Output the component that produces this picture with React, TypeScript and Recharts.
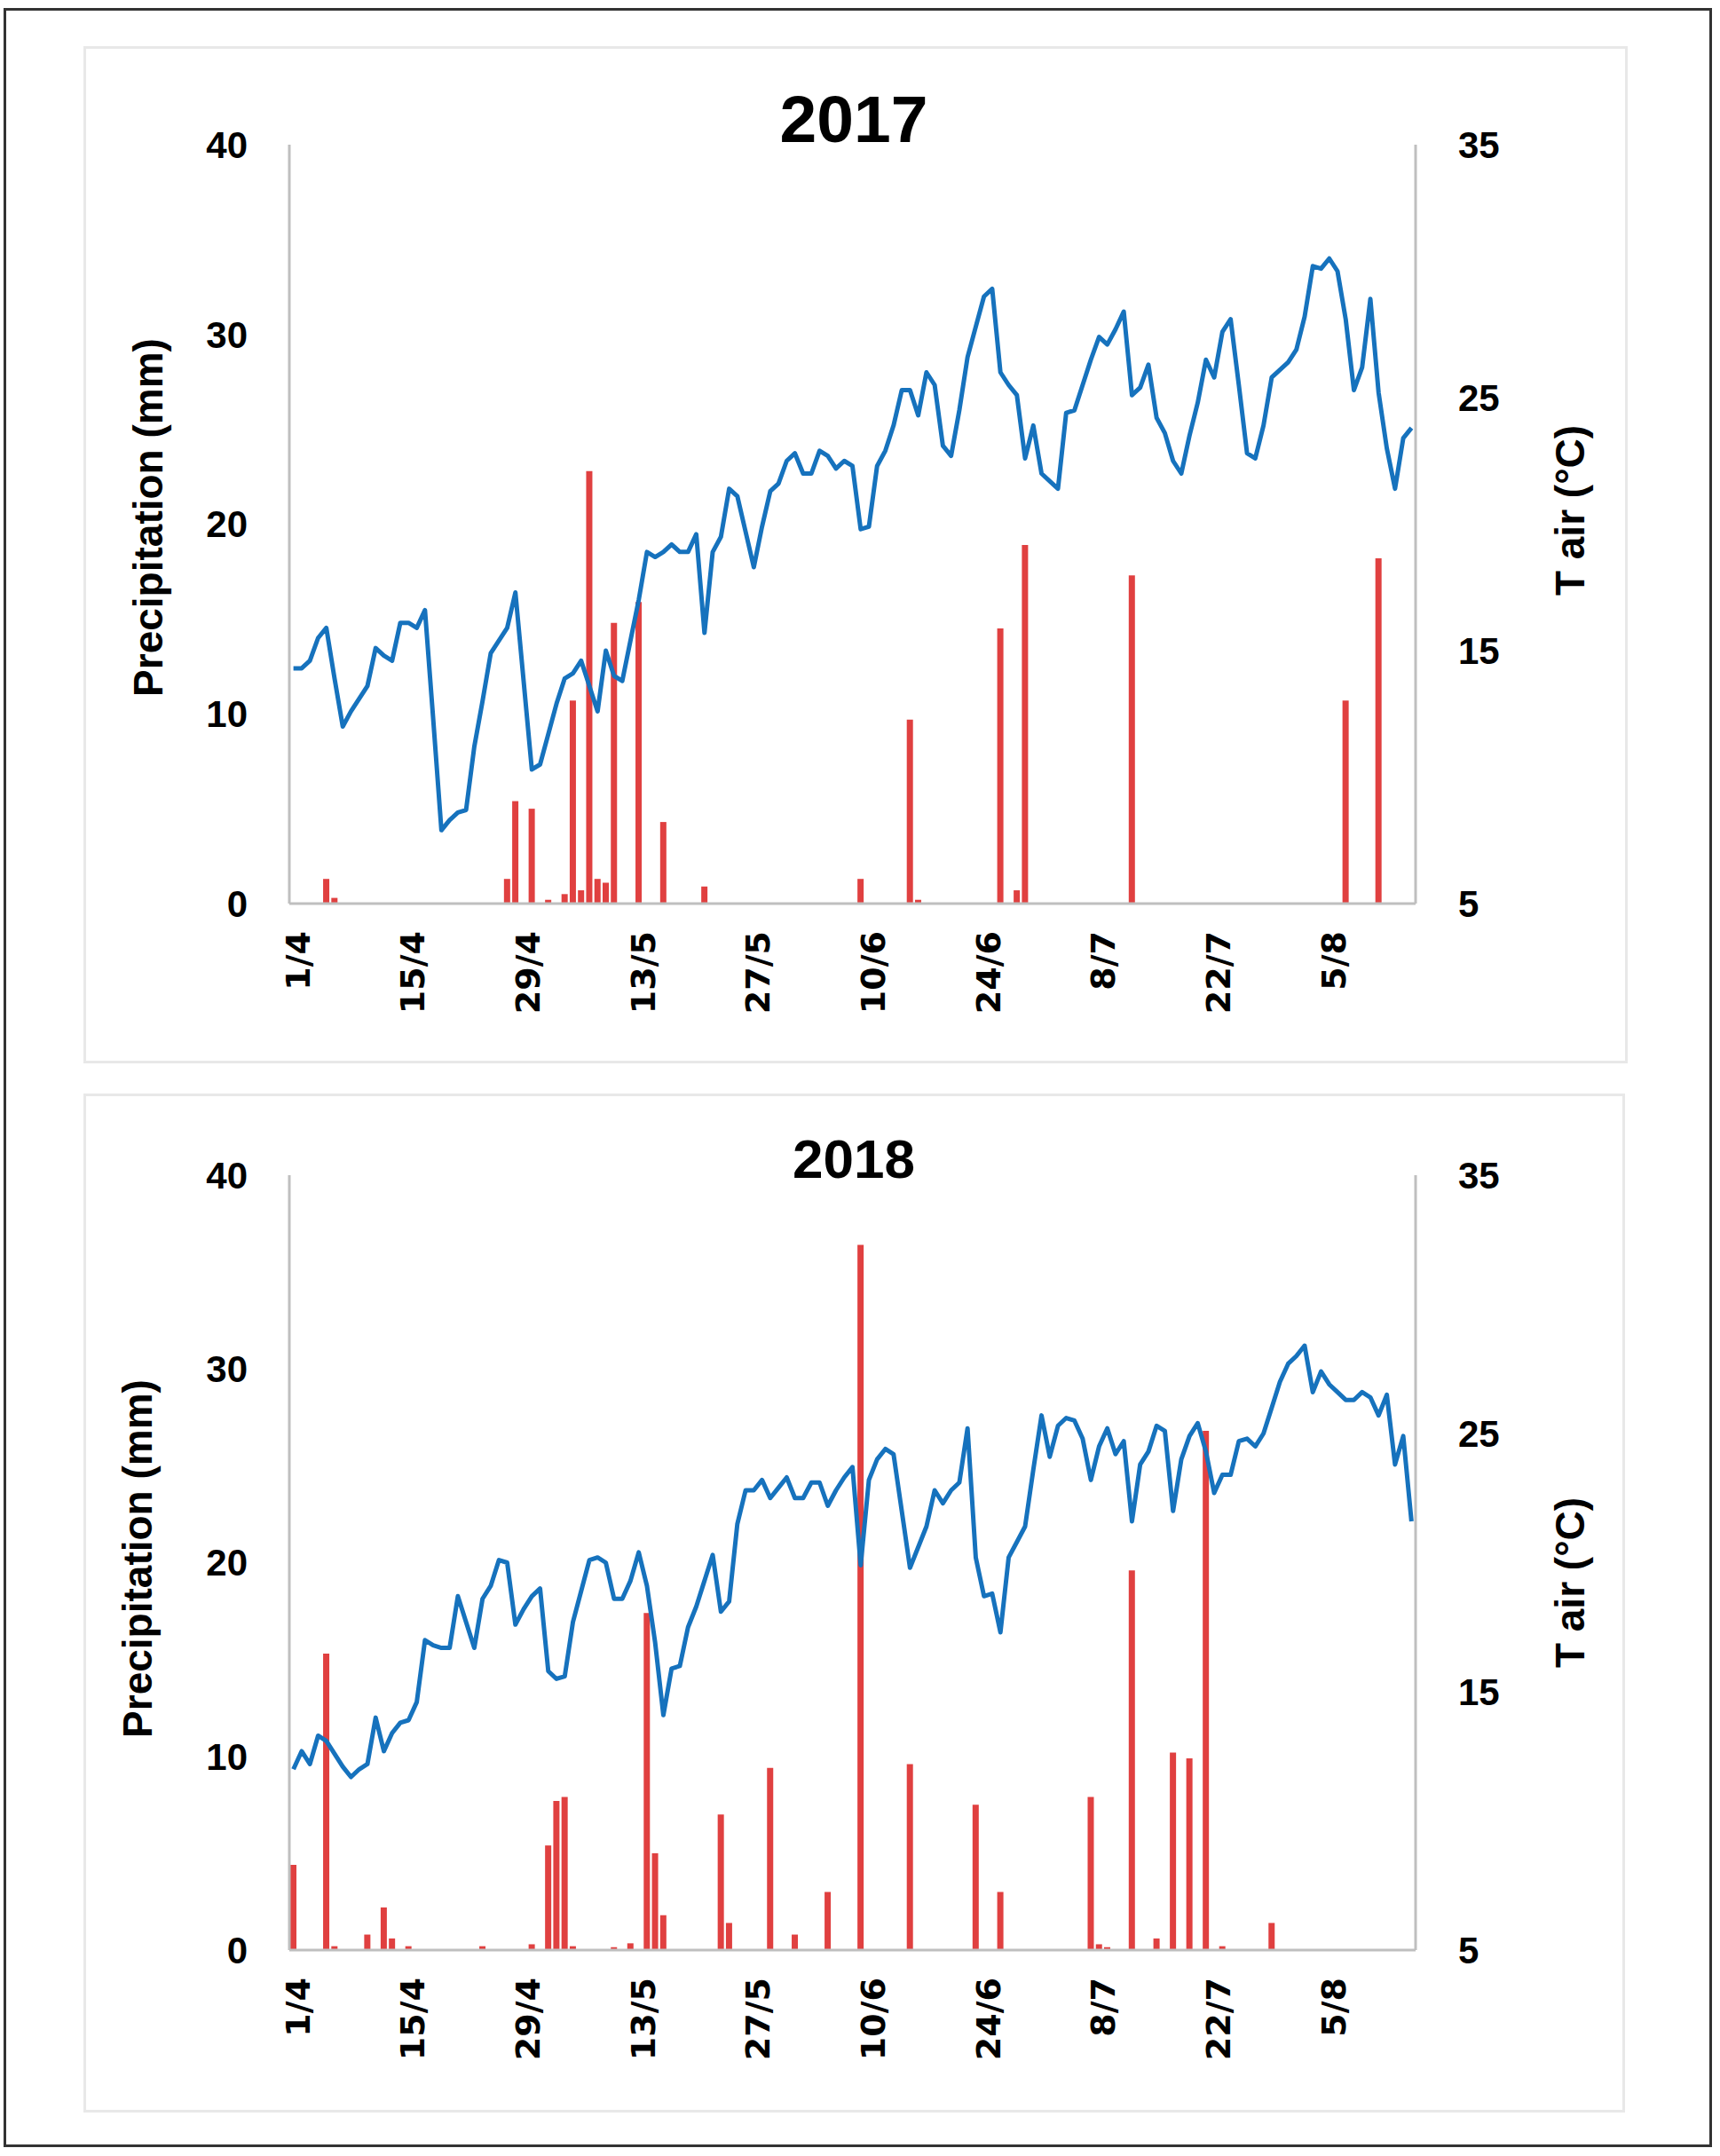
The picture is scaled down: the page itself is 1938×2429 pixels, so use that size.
import React from "react";
import { ComposedChart, Bar, Line, XAxis, YAxis } from "recharts";

// Categories: daily dates from 1 April to 15 August (day/month)
const MONTHS = [4, 5, 6, 7, 8];
const MONTH_DAYS = [30, 31, 30, 31, 15];
const DATES: string[] = [];
MONTHS.forEach((m, i) => {
  for (let d = 1; d <= MONTH_DAYS[i]; d++) DATES.push(`${d}/${m}`);
});

const LEFT_TICKS = [0, 10, 20, 30, 40];
const RIGHT_TICKS = [5, 15, 25, 35];

// Daily mean air temperature (°C), 2017
const TAIR_2017 = [
  14.3, 14.3, 14.6, 15.5, 15.9, 13.9, 12.0, 12.6, 13.1, 13.6,
  15.1, 14.8, 14.6, 16.1, 16.1, 15.9, 16.6, 12.3, 7.9, 8.3,
  8.6, 8.7, 11.2, 13.0, 14.9, 15.4, 15.9, 17.3, 13.8, 10.3,
  10.5, 11.7, 12.9, 13.9, 14.1, 14.6, 13.6, 12.6, 15.0, 14.0,
  13.8, 15.4, 17.0, 18.9, 18.7, 18.9, 19.2, 18.9, 18.9, 19.6,
  15.7, 18.9, 19.5, 21.4, 21.1, 19.7, 18.3, 19.9, 21.3, 21.6,
  22.5, 22.8, 22.0, 22.0, 22.9, 22.7, 22.2, 22.5, 22.3, 19.8,
  19.9, 22.3, 22.9, 23.9, 25.3, 25.3, 24.3, 26.0, 25.5, 23.1,
  22.7, 24.5, 26.6, 27.8, 29.0, 29.3, 26.0, 25.5, 25.1, 22.6,
  23.9, 22.0, 21.7, 21.4, 24.4, 24.5, 25.5, 26.5, 27.4, 27.1,
  27.7, 28.4, 25.1, 25.4, 26.3, 24.2, 23.6, 22.5, 22.0, 23.5,
  24.8, 26.5, 25.8, 27.6, 28.1, 25.5, 22.8, 22.6, 23.9, 25.8,
  26.1, 26.4, 26.9, 28.2, 30.2, 30.1, 30.5, 30.0, 28.1, 25.3,
  26.2, 28.9, 25.2, 23.0, 21.4, 23.4, 23.8,
];

// Daily precipitation (mm), 2017 — days with rain
const PRECIP_2017: [string, number][] = [
  ["5/4", 1.3], ["6/4", 0.3], ["27/4", 1.3], ["28/4", 5.4], ["30/4", 5.0],
  ["2/5", 0.2], ["4/5", 0.5], ["5/5", 10.7], ["6/5", 0.7], ["7/5", 22.8],
  ["8/5", 1.3], ["9/5", 1.1], ["10/5", 14.8], ["13/5", 15.9], ["16/5", 4.3],
  ["21/5", 0.9], ["9/6", 1.3], ["15/6", 9.7], ["16/6", 0.2], ["26/6", 14.5],
  ["28/6", 0.7], ["29/6", 18.9], ["12/7", 17.3], ["7/8", 10.7], ["11/8", 18.2],
];

// Daily mean air temperature (°C), 2018
const TAIR_2018 = [
  12.0, 12.7, 12.2, 13.3, 13.1, 12.6, 12.1, 11.7, 12.0, 12.2,
  14.0, 12.7, 13.4, 13.8, 13.9, 14.6, 17.0, 16.8, 16.7, 16.7,
  18.7, 17.7, 16.7, 18.6, 19.1, 20.1, 20.0, 17.6, 18.2, 18.7,
  19.0, 15.8, 15.5, 15.6, 17.7, 18.9, 20.1, 20.2, 20.0, 18.6,
  18.6, 19.3, 20.4, 19.1, 16.9, 14.1, 15.9, 16.0, 17.5, 18.3,
  19.3, 20.3, 18.1, 18.5, 21.5, 22.8, 22.8, 23.2, 22.5, 22.9,
  23.3, 22.5, 22.5, 23.1, 23.1, 22.2, 22.8, 23.3, 23.7, 19.9,
  23.2, 24.0, 24.4, 24.2, 22.0, 19.8, 20.6, 21.4, 22.8, 22.3,
  22.8, 23.1, 25.2, 20.2, 18.7, 18.8, 17.3, 20.2, 20.8, 21.4,
  23.6, 25.7, 24.1, 25.3, 25.6, 25.5, 24.8, 23.2, 24.5, 25.2,
  24.2, 24.7, 21.6, 23.8, 24.3, 25.3, 25.1, 22.0, 24.0, 24.9,
  25.4, 24.3, 22.7, 23.4, 23.4, 24.7, 24.8, 24.5, 25.0, 26.0,
  27.0, 27.7, 28.0, 28.4, 26.6, 27.4, 26.9, 26.6, 26.3, 26.3,
  26.6, 26.4, 25.7, 26.5, 23.8, 24.9, 21.6,
];

// Daily precipitation (mm), 2018 — days with rain
const PRECIP_2018: [string, number][] = [
  ["1/4", 4.4], ["5/4", 15.3], ["6/4", 0.2], ["10/4", 0.8], ["12/4", 2.2],
  ["13/4", 0.6], ["15/4", 0.2], ["24/4", 0.2], ["30/4", 0.3], ["2/5", 5.4],
  ["3/5", 7.7], ["4/5", 7.9], ["5/5", 0.2], ["10/5", 0.15], ["12/5", 0.35],
  ["14/5", 17.4], ["15/5", 5.0], ["16/5", 1.8], ["23/5", 7.0], ["24/5", 1.4],
  ["29/5", 9.4], ["1/6", 0.8], ["5/6", 3.0], ["9/6", 36.4], ["15/6", 9.6],
  ["23/6", 7.5], ["26/6", 3.0], ["7/7", 7.9], ["8/7", 0.3], ["9/7", 0.15],
  ["12/7", 19.6], ["15/7", 0.6], ["17/7", 10.2], ["19/7", 9.9], ["21/7", 26.8],
  ["23/7", 0.2], ["29/7", 1.4],
];

const BAR_COLOR = "#e04040";
const LINE_COLOR = "#1672bd";
const AXIS_COLOR = "#bfbfbf";
const SANS = "'Liberation Sans', Arial, sans-serif";

const XTick = (props: any) => {
  const { x, y, payload } = props;
  return (
    <text
      transform={`translate(${x + 18}, ${y + 31}) rotate(-90)`}
      textAnchor="end"
      fontFamily="'DejaVu Sans', Verdana, sans-serif"
      fontWeight="bold"
      fontSize={38}
      fill="#000"
    >
      {payload.value}
    </text>
  );
};

function ClimateChart({
  tair,
  precip,
  marginTop,
  height,
}: {
  tair: number[];
  precip: [string, number][];
  marginTop: number;
  height: number;
}) {
  const rain = new Map(precip);
  const data = DATES.map((d, i) => ({ date: d, t: tair[i], p: rain.get(d) ?? 0 }));
  const tickStyle = { fontSize: 42, fontFamily: SANS, fontWeight: 700, fill: "#000" };
  return (
    <ComposedChart
      width={1938}
      height={height}
      data={data}
      margin={{ top: marginTop, right: 0, bottom: 0, left: 0 }}
      barCategoryGap={0}
    >
      <XAxis
        dataKey="date"
        interval={13}
        height={150}
        tickSize={0}
        tickMargin={0}
        tickLine={false}
        axisLine={{ stroke: AXIS_COLOR, strokeWidth: 3 }}
        tick={<XTick />}
      />
      <YAxis
        yAxisId="p"
        orientation="left"
        width={326}
        domain={[0, 40]}
        ticks={LEFT_TICKS}
        tickSize={0}
        tickMargin={47}
        tickLine={false}
        axisLine={{ stroke: AXIS_COLOR, strokeWidth: 3 }}
        tick={tickStyle}
      />
      <YAxis
        yAxisId="t"
        orientation="right"
        width={343}
        domain={[5, 35]}
        ticks={RIGHT_TICKS}
        tickSize={0}
        tickMargin={48}
        tickLine={false}
        axisLine={{ stroke: AXIS_COLOR, strokeWidth: 3 }}
        tick={tickStyle}
      />
      <Bar yAxisId="p" dataKey="p" fill={BAR_COLOR} barSize={7} isAnimationActive={false} />
      <Line
        yAxisId="t"
        type="linear"
        dataKey="t"
        stroke={LINE_COLOR}
        strokeWidth={5}
        dot={false}
        strokeLinejoin="round"
        isAnimationActive={false}
      />
    </ComposedChart>
  );
}

export default function App() {
  return (
    <div
      style={{
        position: "absolute",
        left: 0,
        top: 0,
        width: 1938,
        height: 2429,
        background: "#fff",
        overflow: "hidden",
      }}
    >
      <div
        style={{
          position: "absolute",
          left: 4,
          top: 9,
          width: 1925,
          height: 2410,
          border: "3px solid #333",
          boxSizing: "border-box",
        }}
      />
      <div
        style={{
          position: "absolute",
          left: 94,
          top: 52,
          width: 1740,
          height: 1146,
          border: "3px solid #e8e8e8",
          boxSizing: "border-box",
        }}
      />
      <div
        style={{
          position: "absolute",
          left: 94,
          top: 1232,
          width: 1737,
          height: 1148,
          border: "3px solid #e8e8e8",
          boxSizing: "border-box",
        }}
      />
      <div style={{ position: "absolute", left: 0, top: 0 }}>
        <ClimateChart tair={TAIR_2017} precip={PRECIP_2017} marginTop={163} height={1168} />
      </div>
      <div style={{ position: "absolute", left: 0, top: 1233 }}>
        <ClimateChart tair={TAIR_2018} precip={PRECIP_2018} marginTop={91} height={1114} />
      </div>
      <svg
        width={1938}
        height={2429}
        style={{ position: "absolute", left: 0, top: 0, pointerEvents: "none" }}
      >
        <g fontFamily={SANS} fontWeight="bold" fill="#000">
          <text x={962} y={160} textAnchor="middle" fontSize={75}>
            2017
          </text>
          <text x={962} y={1327} textAnchor="middle" fontSize={62}>
            2018
          </text>
          <text transform="translate(183, 583) rotate(-90)" textAnchor="middle" fontSize={46}>
            Precipitation (mm)
          </text>
          <text transform="translate(1785, 575) rotate(-90)" textAnchor="middle" fontSize={46}>
            T air (°C)
          </text>
          <text transform="translate(171, 1756) rotate(-90)" textAnchor="middle" fontSize={46}>
            Precipitation (mm)
          </text>
          <text transform="translate(1785, 1783) rotate(-90)" textAnchor="middle" fontSize={46}>
            T air (°C)
          </text>
        </g>
      </svg>
    </div>
  );
}
